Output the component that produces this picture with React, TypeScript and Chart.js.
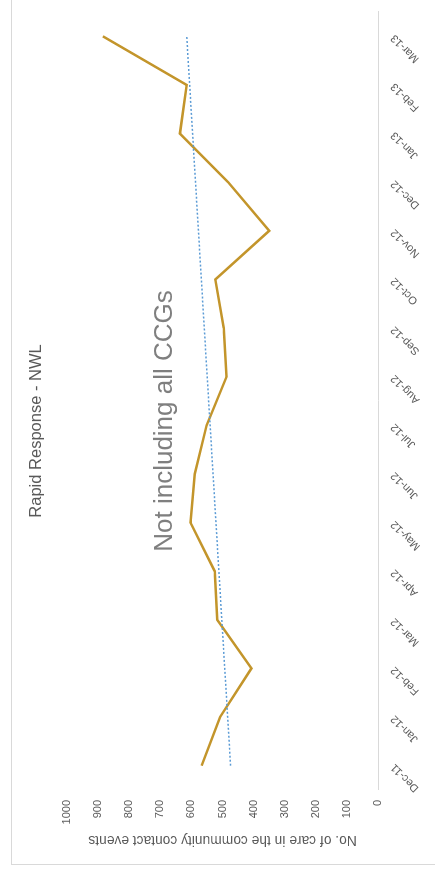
import React, { useEffect, useRef } from "react";
import { Chart, registerables } from "chart.js";

Chart.register(...registerables);

const categories = [
  "Dec-11", "Jan-12", "Feb-12", "Mar-12", "Apr-12", "May-12", "Jun-12", "Jul-12",
  "Aug-12", "Sep-12", "Oct-12", "Nov-12", "Dec-12", "Jan-13", "Feb-13", "Mar-13",
];
const contactEvents = [567, 508, 407, 517, 525, 603, 589, 551, 487, 496, 523, 350, 482, 637, 615, 885];
const trendStart = 474;
const trendEnd = 615;
const chartTitle = "Rapid Response - NWL";
const noteText = "Not including all CCGs";
const yAxisTitle = "No. of care in the community contact events";
const yMin = 0;
const yMax = 1000;
const yStep = 100;

const FONT = '"Liberation Sans", Arial, sans-serif';

export default function App() {
  const canvasRef = useRef<HTMLCanvasElement | null>(null);

  useEffect(() => {
    const canvas = canvasRef.current;
    if (!canvas) return;
    const trendData = categories.map((_, i) =>
      i === 0 ? trendStart : i === categories.length - 1 ? trendEnd : null
    );
    const textPlugin = {
      id: "textPlugin",
      afterDraw(chart: any) {
        const ctx = chart.ctx;
        ctx.save();
        ctx.textAlign = "center";
        ctx.textBaseline = "alphabetic";
        ctx.fillStyle = "#595959";
        ctx.font = `16.5px ${FONT}`;
        ctx.fillText(chartTitle, 440, 40.5);
        ctx.fillStyle = "#7f7f7f";
        ctx.font = `26px ${FONT}`;
        ctx.fillText(noteText, 450, 172);
        ctx.restore();
      },
    };
    const chart = new Chart(canvas, {
      type: "line",
      data: {
        labels: categories,
        datasets: [
          {
            label: "Rapid Response",
            data: contactEvents,
            borderColor: "#C3952B",
            backgroundColor: "#C3952B",
            borderWidth: 2.5,
            pointRadius: 0,
            tension: 0,
            order: 2,
          },
          {
            label: "Linear trend",
            data: trendData,
            borderColor: "#5B9BD5",
            backgroundColor: "#5B9BD5",
            borderWidth: 1.5,
            borderDash: [2, 2],
            pointRadius: 0,
            spanGaps: true,
            tension: 0,
            order: 1,
          },
        ],
      },
      options: {
        responsive: false,
        animation: false,
        devicePixelRatio: 1,
        layout: { padding: { left: 0, top: 67, right: 12, bottom: 0 } },
        plugins: {
          legend: { display: false },
          title: { display: false },
          tooltip: { enabled: false },
        },
        scales: {
          x: {
            type: "category",
            offset: true,
            grid: { display: false, drawTicks: false },
            border: { display: true, color: "#d9d9d9", width: 1 },
            ticks: {
              minRotation: 45,
              maxRotation: 45,
              padding: 10,
              color: "#595959",
              font: { family: FONT, size: 11 },
            },
            afterFit(scale: any) {
              scale.height = 57;
            },
          },
          y: {
            min: yMin,
            max: yMax,
            grid: { display: false, drawTicks: false },
            border: { display: false },
            ticks: {
              stepSize: yStep,
              padding: 10,
              color: "#595959",
              font: { family: FONT, size: 11 },
              callback: (value: any) => String(value),
            },
            title: {
              display: true,
              text: yAxisTitle,
              color: "#595959",
              font: { family: FONT, size: 13.8 },
              padding: { top: 23, bottom: 0 },
            },
            afterFit(scale: any) {
              scale.width = 81;
            },
          },
        },
      },
      plugins: [textPlugin],
    });
    return () => chart.destroy();
  }, []);

  return (
    <div
      style={{
        position: "fixed",
        left: 0,
        top: 0,
        width: 435,
        height: 871,
        overflow: "hidden",
        background: "#ffffff",
      }}
    >
      <div
        style={{
          position: "absolute",
          left: 0,
          top: 0,
          width: 871,
          height: 435,
          overflow: "hidden",
          transformOrigin: "0 0",
          transform: "translate(0px, 871px) rotate(-90deg)",
          background: "#ffffff",
        }}
      >
        <div
          style={{
            position: "absolute",
            left: 6,
            top: 11,
            width: 900,
            height: 500,
            border: "1px solid #d9d9d9",
            boxSizing: "border-box",
          }}
        />
        <canvas
          ref={canvasRef}
          width={871}
          height={435}
          style={{ position: "absolute", left: 0, top: 0, width: 871, height: 435 }}
        />
      </div>
    </div>
  );
}
